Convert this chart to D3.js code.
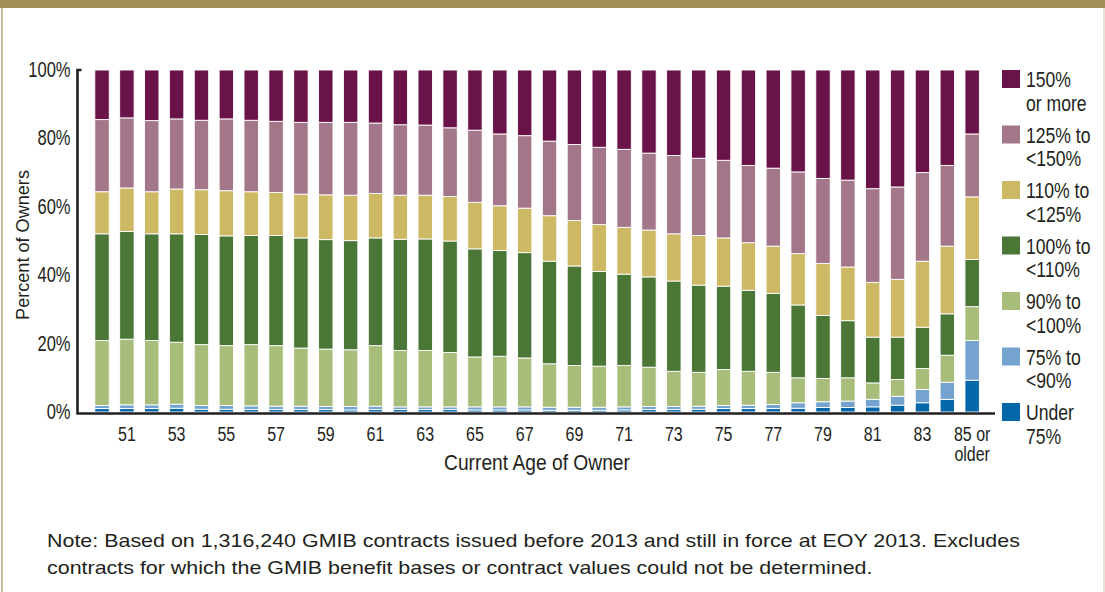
<!DOCTYPE html>
<html><head><meta charset="utf-8">
<script src="https://cdn.jsdelivr.net/npm/d3@7"></script>
<style>html,body{margin:0;padding:0;background:#fff;} svg{display:block;}</style>
</head><body><svg id="c" width="1105" height="592"></svg>
<script>
// ---------------- DATA ----------------
const ages = ["50","51","52","53","54","55","56","57","58","59","60","61","62","63","64","65","66","67",
              "68","69","70","71","72","73","74","75","76","77","78","79","80","81","82","83","84","85"];
const tickAges   = ["51","53","55","57","59","61","63","65","67","69","71","73","75","77","79","81","83","85"];
const tickLabels = [["51"],["53"],["55"],["57"],["59"],["61"],["63"],["65"],["67"],["69"],["71"],["73"],
                    ["75"],["77"],["79"],["81"],["83"],["85 or","older"]];
const yTicks = [0, 20, 40, 60, 80, 100];
const yTickLabels = ["0%","20%","40%","60%","80%","100%"];

const under75   = [1.0,1.0,1.0,1.1,0.8,0.8,0.7,0.7,0.7,0.7,0.6,0.7,0.7,0.7,0.7,0.6,0.6,0.6,
                   0.5,0.5,0.5,0.6,0.7,0.7,0.8,1.0,1.0,1.0,1.1,1.3,1.3,1.5,2.0,2.7,3.7,9.3];
const r75to90   = [0.9,1.1,1.1,1.2,1.1,1.1,1.1,1.0,1.0,0.9,1.0,1.0,0.8,0.8,0.8,0.9,0.9,0.9,
                   0.9,0.9,0.9,0.9,0.9,0.9,0.9,0.9,1.0,1.2,1.6,1.7,1.9,2.2,2.6,3.9,5.0,11.6];
const r90to100  = [19.0,19.2,18.8,18.1,17.8,17.5,17.9,17.7,17.0,16.8,16.6,17.7,16.5,16.5,15.9,14.6,14.8,14.3,
                   12.7,12.2,12.0,12.1,11.5,10.3,9.9,10.5,9.9,9.4,7.3,6.8,6.8,4.8,4.9,6.1,7.9,9.9];
const r100to110 = [31.2,31.5,31.2,31.7,32.2,32.1,31.9,32.2,32.2,32.0,31.9,31.5,32.5,32.6,32.6,31.6,30.9,30.8,
                   30.0,29.1,27.7,26.7,26.4,26.4,25.5,24.4,23.7,23.1,21.3,18.4,16.7,13.4,12.4,12.1,12.1,13.8];
const r110to125 = [12.3,12.7,12.3,13.1,13.1,13.2,12.8,12.6,12.8,13.1,13.3,13.0,12.9,12.8,13.0,13.6,13.1,13.0,
                   13.3,13.3,13.7,13.7,13.7,13.8,14.5,14.1,13.9,13.8,15.0,15.2,15.7,16.0,16.9,19.3,19.8,18.3];
const r125to150 = [21.1,20.5,20.8,20.5,20.3,21.0,20.9,20.8,21.0,21.2,21.3,20.6,20.6,20.5,20.1,21.1,21.0,21.2,
                   21.8,22.2,22.6,22.8,22.5,22.9,22.6,22.7,22.6,22.8,23.9,24.9,25.4,27.4,27.0,25.9,23.6,18.4];
const r150plus  = [14.5,14.0,14.8,14.3,14.7,14.3,14.7,15.0,15.3,15.3,15.3,15.5,16.0,16.1,16.9,17.6,18.7,19.2,
                   20.8,21.8,22.6,23.2,24.3,25.0,25.8,26.4,27.9,28.7,29.8,31.7,32.2,34.7,34.2,30.0,27.9,18.7];

const seriesKeys = ["under75","r75to90","r90to100","r100to110","r110to125","r125to150","r150plus"];
const seriesValues = [under75, r75to90, r90to100, r100to110, r110to125, r125to150, r150plus];
const legendLines = [["Under","75%"],["75% to","<90%"],["90% to","<100%"],["100% to","<110%"],
                     ["110% to","<125%"],["125% to","<150%"],["150%","or more"]];
const colors = ["#0467a9","#74a3d0","#a9bd7b","#4b7736","#cdb864","#a37789","#6a1349"];

const yTitle = "Percent of Owners";
const xTitle = "Current Age of Owner";
const noteLines = ["Note: Based on 1,316,240 GMIB contracts issued before 2013 and still in force at EOY 2013. Excludes",
                   "contracts for which the GMIB benefit bases or contract values could not be determined."];

// ---------------- CHART ----------------
const svg = d3.select("#c");
const FONT = "'Liberation Sans', Arial, sans-serif";
const TXT = "#231f20";

svg.append("rect").attr("width",1105).attr("height",592).attr("fill","#fff");
svg.append("rect").attr("x",0).attr("y",0).attr("width",1105).attr("height",8).attr("fill","#a48e57");
svg.append("line").attr("x1",2).attr("x2",2).attr("y1",8).attr("y2",592).attr("stroke","#b9a679").attr("stroke-width",1.5);
svg.append("line").attr("x1",1104).attr("x2",1104).attr("y1",8).attr("y2",592).attr("stroke","#e2d9c6").attr("stroke-width",1.5);

const table = ages.map((a,i) => {
  const row = {age:a};
  seriesKeys.forEach((k,j) => row[k] = seriesValues[j][i]);
  return row;
});
const stacked = d3.stack().keys(seriesKeys)(table);

const x = d3.scaleBand().domain(ages).range([89.6, 984.6]).paddingInner(0.42).paddingOuter(0.21);
const y = d3.scaleLinear().domain([0,100]).range([412, 70]);

const gBars = svg.append("g");
stacked.forEach((layer, j) => {
  gBars.selectAll(null).data(layer).enter().append("rect")
    .attr("x", d => x(d.data.age))
    .attr("width", x.bandwidth())
    .attr("y", d => y(d[1]))
    .attr("height", d => Math.max(0, y(d[0]) - y(d[1])))
    .attr("fill", colors[j])
    .attr("stroke", "#ffffff")
    .attr("stroke-width", 0.9);
});

// axes
const axisColor = "#231f20";
svg.append("path").attr("d", `M${81.5},${70} H${77.5} V${413.5} H${995}`)
   .attr("fill","none").attr("stroke",axisColor).attr("stroke-width",2.6);

// y tick labels
svg.append("g").selectAll("text").data(yTicks).enter().append("text")
  .attr("transform", d => `translate(70.5,${y(d) + 7}) scale(0.75,1)`)
  .attr("text-anchor","end").attr("font-family",FONT).attr("font-size",22).attr("fill",TXT)
  .text((d,i) => yTickLabels[i]);

// x tick labels (multi-line labels as one text with tspans)
const xg = svg.append("g");
tickAges.forEach((a,i) => {
  const t = xg.append("text")
    .attr("transform", `translate(${x(a) + x.bandwidth()/2},441) scale(0.8,1)`)
    .attr("text-anchor","middle").attr("font-family",FONT).attr("font-size",20).attr("fill",TXT);
  tickLabels[i].forEach((line, k) => {
    t.append("tspan").attr("x",0).attr("dy", k === 0 ? 0 : 20).text(line);
  });
});

function fitWidth(t, target){
  const w = t.node().getComputedTextLength();
  return target / w;
}

// x title
const xt = svg.append("text").attr("text-anchor","middle").attr("font-family",FONT).attr("font-size",22)
  .attr("fill",TXT).text(xTitle);
const sxt = fitWidth(xt, 186);
xt.attr("transform", `translate(537,470) scale(${sxt},1)`);

// y title
const ytt = svg.append("text").attr("text-anchor","middle").attr("font-family",FONT).attr("font-size",19)
  .attr("fill",TXT).text(yTitle);
const syt = fitWidth(ytt, 150);
ytt.attr("transform", `translate(29,245) rotate(-90) scale(${syt},1)`);

// legend
const lg = svg.append("g");
for (let j = seriesKeys.length - 1; j >= 0; j--) {
  const top = 70 + (6 - j) * 55.5;
  lg.append("rect").attr("x",1002).attr("y",top).attr("width",18).attr("height",18).attr("fill",colors[j]);
  const t = lg.append("text").attr("transform", `translate(1026,${top + 17}) scale(0.8,1)`)
    .attr("font-family",FONT).attr("font-size",22).attr("fill",TXT);
  legendLines[j].forEach((line,k) => {
    t.append("tspan").attr("x",0).attr("dy", k === 0 ? 0 : 24).text(line);
  });
}

// note
const n1 = svg.append("text").attr("font-family",FONT).attr("font-size",19).attr("fill",TXT).text(noteLines[0]);
const sn = fitWidth(n1, 973);
n1.attr("transform", `translate(47,547) scale(${sn},1)`);
svg.append("text").attr("font-family",FONT).attr("font-size",19).attr("fill",TXT).text(noteLines[1])
  .attr("transform", `translate(47,574) scale(${sn},1)`);
</script>
</body></html>
